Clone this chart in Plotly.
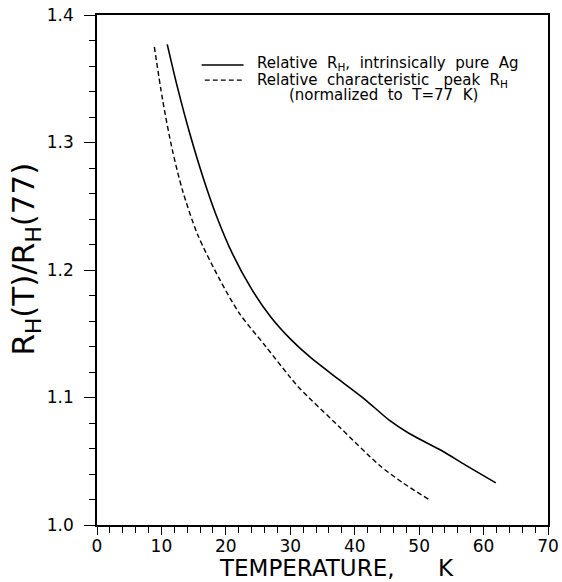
import plotly.graph_objects as go

# Relative Hall coefficient, intrinsically pure Ag
temp_pure = [10.9, 12.5, 14.4, 16.5, 18.5, 21.0, 24.0, 27.0, 30.0, 33.0, 37.3, 41.7, 45.3, 48.4, 53.6, 57.2, 61.9]
rh_pure = [1.377, 1.343, 1.307, 1.272, 1.243, 1.213, 1.185, 1.163, 1.146, 1.132, 1.115, 1.098, 1.0825, 1.072, 1.058, 1.047, 1.033]

# Relative characteristic peak Hall coefficient
temp_peak = [8.9, 10.2, 11.7, 13.3, 15.6, 19.0, 22.1, 26.2, 29.8, 31.4, 37.6, 43.8, 47.5, 51.5]
rh_peak = [1.375, 1.333, 1.294, 1.262, 1.228, 1.193, 1.166, 1.140, 1.117, 1.1075, 1.077, 1.047, 1.033, 1.020]

x_ticks = [0, 10, 20, 30, 40, 50, 60, 70]
y_ticks = [1.0, 1.1, 1.2, 1.3, 1.4]

legend_lines = [
    "Relative  R<sub>H</sub>,  intrinsically  pure  Ag",
    "Relative  characteristic   peak  R<sub>H</sub>",
    "(normalized  to  T=77  K)",
]

FONT = "DejaVu Sans"
DASH = "5px,3px"

fig = go.Figure()
fig.add_trace(go.Scatter(x=temp_pure, y=rh_pure, mode="lines",
                         line=dict(color="black", width=1.6, shape="spline", smoothing=0.8)))
fig.add_trace(go.Scatter(x=temp_peak, y=rh_peak, mode="lines",
                         line=dict(color="black", width=1.4, dash=DASH, shape="spline", smoothing=0.8)))

# hand-built key: sample lines with text beside them
fig.add_shape(type="line", xref="paper", yref="paper", x0=0.232, x1=0.325, y0=0.902, y1=0.902,
              line=dict(color="black", width=1.5))
fig.add_shape(type="line", xref="paper", yref="paper", x0=0.239, x1=0.325, y0=0.8725, y1=0.8725,
              line=dict(color="black", width=1.3, dash=DASH))
key_font = dict(family=FONT, size=15, color="black")
fig.add_annotation(xref="paper", yref="paper", x=0.350, y=0.904, text=legend_lines[0], showarrow=False,
                   xanchor="left", yanchor="middle", font=key_font)
fig.add_annotation(xref="paper", yref="paper", x=0.350, y=0.8725, text=legend_lines[1], showarrow=False,
                   xanchor="left", yanchor="middle", font=key_font)
fig.add_annotation(xref="paper", yref="paper", x=0.635, y=0.843, text=legend_lines[2], showarrow=False,
                   xanchor="center", yanchor="middle", font=key_font)

# axis titles
fig.add_annotation(xref="paper", yref="paper", x=-0.159, y=0.521, text="R<sub>H</sub>(T)/R<sub>H</sub>(77)",
                   textangle=-90, showarrow=False, xanchor="center", yanchor="middle",
                   font=dict(family=FONT, size=31, color="black"))
fig.add_annotation(xref="paper", yref="paper", x=0.2655, y=-0.0843, text="TEMPERATURE,", showarrow=False,
                   xanchor="left", yanchor="middle", font=dict(family=FONT, size=23, color="black"))
fig.add_annotation(xref="paper", yref="paper", x=0.752, y=-0.0843, text="K", showarrow=False,
                   xanchor="left", yanchor="middle", font=dict(family=FONT, size=23, color="black"))

axis_common = dict(
    showgrid=False, zeroline=False, showline=True, linecolor="black", linewidth=1.6,
    mirror=True, ticks="outside", tickwidth=1.3, tickcolor="black", automargin=False,
    tickfont=dict(family=FONT, size=17, color="black"),
)

fig.update_xaxes(
    range=[0, 70], tickmode="array", tickvals=x_ticks, ticklen=8, ticklabelstandoff=-3,
    minor=dict(dtick=2, ticks="outside", ticklen=6, tickwidth=1.1, tickcolor="black"),
    **axis_common,
)
fig.update_yaxes(
    range=[1.0, 1.4], tickmode="array", tickvals=y_ticks, tickformat=".1f", ticklen=11, ticklabelstandoff=7,
    minor=dict(dtick=0.02, ticks="outside", ticklen=6, tickwidth=1.1, tickcolor="black"),
    **axis_common,
)

fig.update_layout(
    width=562, height=582,
    margin=dict(l=97, r=14, t=15, b=57),
    paper_bgcolor="white", plot_bgcolor="white",
    showlegend=False,
)

fig.write_html("out.html")
